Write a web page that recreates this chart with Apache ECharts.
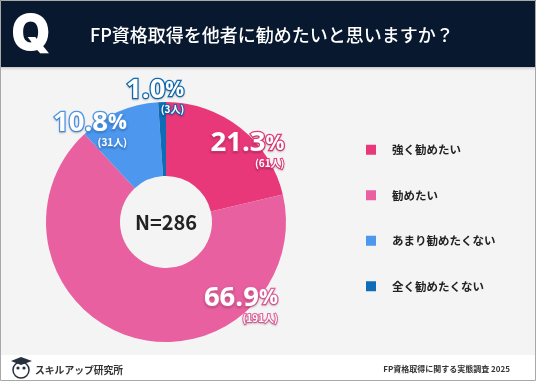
<!DOCTYPE html>
<html>
<head>
<meta charset="utf-8">
<script src="https://cdn.jsdelivr.net/npm/echarts@6/dist/echarts.min.js"></script>
<style>
  html, body { margin: 0; padding: 0; background: #fff; }
  #chart { width: 536px; height: 381px; }
</style>
</head>
<body>
<div id="chart"></div>
<script>
const categories = ['強く勧めたい', '勧めたい', 'あまり勧めたくない', '全く勧めたくない'];
const counts = [61, 191, 31, 3];
const percents = ['21.3', '66.9', '10.8', '1.0'];
const colors = ['#E8387A', '#E8609F', '#4D97EE', '#0F6DB8'];
const labelShift = [[28, -5], [100, 0], [-42, -14], [-8, -40]];

const FONT = '"Noto Sans CJK JP", sans-serif';
const NUM_FONT = '"Open Sans", sans-serif';
const NAVY = '#08182E';

const chart = echarts.init(document.getElementById('chart'), null, { renderer: 'canvas' });

const pieData = categories.map((name, i) => {
  const outline = { color: '#fff', textBorderColor: colors[i], textBorderWidth: 2.5, textShadowColor: 'rgba(0,0,0,0.18)', textShadowBlur: 2, textShadowOffsetY: 1 };
  return {
    name,
    value: counts[i],
    itemStyle: { color: colors[i] },
    label: {
      formatter: `{p|${percents[i]}}{u|%}\n{n|(${counts[i]}人)}`,
      rich: {
        p: { fontFamily: NUM_FONT, fontSize: 27.5, fontWeight: 700, lineHeight: 27, ...outline },
        u: { fontFamily: NUM_FONT, fontSize: 21, fontWeight: 700, lineHeight: 27, ...outline },
        n: { fontFamily: FONT, fontSize: 10, fontWeight: 700, align: 'right', lineHeight: 12, ...outline, textBorderWidth: 2 },
      },
    },
  };
});

chart.setOption({
  animation: false,
  backgroundColor: '#F4F4F4',
  title: {
    text: 'FP資格取得を他者に勧めたいと思いますか？',
    left: 85,
    top: 21,
    textStyle: { color: '#fff', fontFamily: FONT, fontSize: 18, fontWeight: 500 },
  },
  legend: {
    orient: 'vertical',
    left: 361,
    top: 139,
    icon: 'rect',
    itemWidth: 10,
    itemHeight: 10,
    itemGap: 34,
    selectedMode: false,
    data: categories,
    textStyle: { color: '#222', fontFamily: FONT, fontSize: 11.5, fontWeight: 700, padding: [0, 0, 0, 11], height: 12 },
  },
  series: [{
    type: 'pie',
    center: [166, 222],
    radius: [46, 120],
    startAngle: 90,
    clockwise: true,
    silent: true,
    avoidLabelOverlap: false,
    minShowLabelAngle: 0,
    label: { show: true, position: 'inside', align: 'center' },
    labelLine: { show: false },
    labelLayout: (params) => ({ dx: labelShift[params.dataIndex][0], dy: labelShift[params.dataIndex][1] }),
    data: pieData,
    z: 2,
  }],
  graphic: [
    { type: 'rect', z: 0, shape: { x: 0, y: 0, width: 536, height: 67 }, style: { fill: NAVY, shadowColor: 'rgba(0,0,0,0.25)', shadowBlur: 3, shadowOffsetY: 1 } },
    { type: 'rect', z: 0, shape: { x: 0, y: 355, width: 536, height: 26 }, style: { fill: '#fff' } },
    { type: 'rect', z: 100, shape: { x: 0.5, y: 0.5, width: 535, height: 380 }, style: { fill: 'none', stroke: '#A8A8A8', lineWidth: 1 } },
    { type: 'text', z: 10, x: 31, y: 35, style: { text: 'Q', fill: '#fff', align: 'center', verticalAlign: 'middle', font: '900 50px Inter, sans-serif' } },
    { type: 'text', z: 10, x: 166, y: 222, style: { text: 'N=286', fill: '#222', align: 'center', verticalAlign: 'middle', font: '700 20px "Noto Sans CJK JP", sans-serif' } },
    { type: 'text', z: 10, x: 35, y: 370, style: { text: 'スキルアップ研究所', fill: '#333', verticalAlign: 'middle', font: '700 9.8px "Noto Sans CJK JP", sans-serif' } },
    { type: 'text', z: 10, x: 510, y: 369, style: { text: 'FP資格取得に関する実態調査 2025', fill: '#333', align: 'right', verticalAlign: 'middle', font: '700 8px "Noto Sans CJK JP", sans-serif' } },
    // owl logo
    { type: 'polygon', z: 10, shape: { points: [[21, 357], [32, 361], [21, 365], [11, 361]] }, style: { fill: '#26303F' } },
    { type: 'circle', z: 9, shape: { cx: 21, cy: 370, r: 8 }, style: { fill: '#fff', stroke: '#26303F', lineWidth: 1.5 } },
    { type: 'circle', z: 10, shape: { cx: 18, cy: 368, r: 1.6 }, style: { fill: '#26303F' } },
    { type: 'circle', z: 10, shape: { cx: 24, cy: 368, r: 1.6 }, style: { fill: '#26303F' } },
  ],
});
</script>
</body>
</html>
